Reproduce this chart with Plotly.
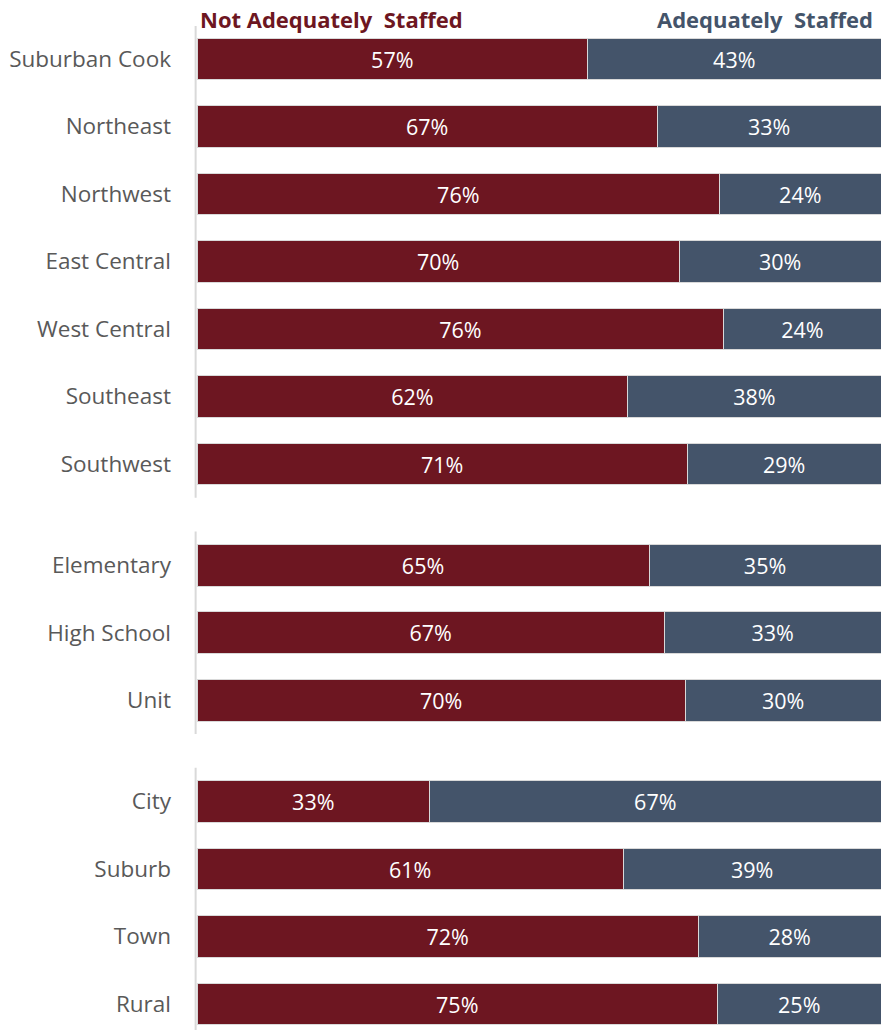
import plotly.graph_objects as go

# data
categories = ["Suburban Cook", "Northeast", "Northwest", "East Central", "West Central",
              "Southeast", "Southwest",
              "Elementary", "High School", "Unit",
              "City", "Suburb", "Town", "Rural"]
group_sizes = [7, 3, 4]

not_adequate = [57.1, 67.3, 76.4, 70.5, 77.0, 63.0, 71.7,
                66.1, 68.3, 71.4,
                34.0, 62.3, 73.3, 76.1]
adequate = [round(100 - v, 1) for v in not_adequate]

not_adequate_labels = ["57%", "67%", "76%", "70%", "76%", "62%", "71%",
                       "65%", "67%", "70%",
                       "33%", "61%", "72%", "75%"]
adequate_labels = ["43%", "33%", "24%", "30%", "24%", "38%", "29%",
                   "35%", "33%", "30%",
                   "67%", "39%", "28%", "25%"]

RED = "#6D1621"
SLATE = "#44546A"
FONT = "Open Sans"

# y positions with a gap between groups
ypos, groups = [], []
p = 0.0
for n in group_sizes:
    start = p
    for i in range(n):
        ypos.append(p)
        p += 1
    groups.append((start, p - 1))
    p += 0.5

fig = go.Figure()
fig.add_trace(go.Bar(y=ypos, x=not_adequate, orientation="h", name="Not Adequately Staffed",
                     marker=dict(color=RED, line=dict(color="#D9D9D9", width=1)),
                     text=not_adequate_labels, textposition="inside",
                     insidetextanchor="middle", textangle=0,
                     textfont=dict(color="white", size=21.5, family=FONT)))
fig.add_trace(go.Bar(y=ypos, x=adequate, orientation="h", name="Adequately Staffed",
                     marker=dict(color=SLATE, line=dict(color="#D9D9D9", width=1)),
                     text=adequate_labels, textposition="inside",
                     insidetextanchor="middle", textangle=0,
                     textfont=dict(color="white", size=21.5, family=FONT)))

# vertical axis line per group (paper x so it is not clipped)
for a, b in groups:
    fig.add_shape(type="line", xref="paper", yref="y", x0=-0.002, x1=-0.002,
                  y0=a - 0.5, y1=b + 0.5, line=dict(color="#D9D9D9", width=2))

fig.add_annotation(text="<b>Not Adequately  Staffed</b>", xref="paper", yref="paper",
                   x=0, y=1, xanchor="left", yanchor="middle", xshift=1, yshift=7,
                   showarrow=False, font=dict(color=RED, size=22, family=FONT))
fig.add_annotation(text="<b>Adequately  Staffed</b>", xref="paper", yref="paper",
                   x=1, y=1, xanchor="right", yanchor="middle", xshift=-6, yshift=7,
                   showarrow=False, font=dict(color=SLATE, size=22, family=FONT))

fig.update_layout(
    width=881, height=1030,
    barmode="stack", bargap=0.38,
    showlegend=False,
    plot_bgcolor="white", paper_bgcolor="white",
    margin=dict(l=197, r=0, t=26, b=0),
    xaxis=dict(range=[0, 100], visible=False, fixedrange=True),
    yaxis=dict(range=[14.385, -0.489], tickvals=ypos, ticktext=categories,
               showgrid=False, zeroline=False, showline=False, ticks="",
               ticklabelstandoff=25,
               tickfont=dict(color="#595959", size=22.5, family=FONT)),
)

fig.write_html("out.html", config={"displayModeBar": False},
               post_script="document.body.style.margin='0';")
